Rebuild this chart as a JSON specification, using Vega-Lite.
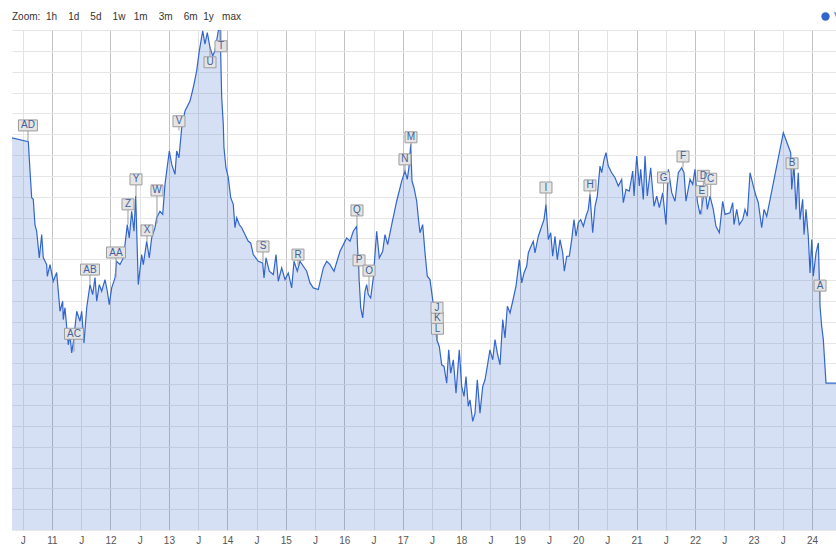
{
  "$schema": "https://vega.github.io/schema/vega-lite/v6.json",
  "width": 824,
  "height": 500,
  "autosize": {"type": "none"},
  "padding": {"left": 12, "top": 30, "right": 0, "bottom": 17},
  "background": "white",
  "config": {
    "view": {"stroke": null},
    "font": "Liberation Sans"
  },
  "title": {
    "text": "Zoom:\u00a0\u00a01h\u00a0\u00a0\u00a0\u00a01d\u00a0\u00a0\u00a0\u00a05d\u00a0\u00a0\u00a0\u00a01w\u00a0\u00a0\u00a01m\u00a0\u00a0\u00a0\u00a03m\u00a0\u00a0\u00a0\u00a06m\u00a0\u00a01y\u00a0\u00a0\u00a0max",
    "anchor": "start",
    "frame": "group",
    "fontSize": 10,
    "fontWeight": "normal",
    "color": "#333333",
    "offset": 11,
    "dy": 22
  },
  "datasets": {
    "series": [
      {"t": 2010.311, "v": 18.83}, {"t": 2010.595, "v": 18.64}, {"t": 2010.624, "v": 17.23}, {"t": 2010.653, "v": 15.95},
      {"t": 2010.680, "v": 15.87}, {"t": 2010.709, "v": 14.66}, {"t": 2010.738, "v": 14.34}, {"t": 2010.783, "v": 13.06},
      {"t": 2010.824, "v": 14.18}, {"t": 2010.851, "v": 13.08}, {"t": 2010.909, "v": 12.74}, {"t": 2010.920, "v": 12.18},
      {"t": 2010.966, "v": 12.74}, {"t": 2011.022, "v": 11.94}, {"t": 2011.080, "v": 12.36}, {"t": 2011.137, "v": 10.50},
      {"t": 2011.183, "v": 10.98}, {"t": 2011.193, "v": 10.10}, {"t": 2011.222, "v": 10.67}, {"t": 2011.279, "v": 8.89},
      {"t": 2011.308, "v": 9.38}, {"t": 2011.337, "v": 8.50}, {"t": 2011.364, "v": 8.99}, {"t": 2011.423, "v": 10.50},
      {"t": 2011.479, "v": 10.02}, {"t": 2011.508, "v": 10.50}, {"t": 2011.547, "v": 8.98}, {"t": 2011.594, "v": 10.67},
      {"t": 2011.650, "v": 11.78}, {"t": 2011.696, "v": 11.30}, {"t": 2011.736, "v": 12.12}, {"t": 2011.765, "v": 10.98},
      {"t": 2011.809, "v": 11.78}, {"t": 2011.850, "v": 11.46}, {"t": 2011.907, "v": 12.02}, {"t": 2011.946, "v": 11.46},
      {"t": 2011.980, "v": 10.82}, {"t": 2012.021, "v": 11.62}, {"t": 2012.078, "v": 12.10}, {"t": 2012.107, "v": 12.90},
      {"t": 2012.163, "v": 12.74}, {"t": 2012.220, "v": 13.06}, {"t": 2012.249, "v": 13.70}, {"t": 2012.288, "v": 14.66},
      {"t": 2012.322, "v": 14.02}, {"t": 2012.363, "v": 15.30}, {"t": 2012.403, "v": 14.34}, {"t": 2012.432, "v": 16.03},
      {"t": 2012.476, "v": 11.78}, {"t": 2012.534, "v": 13.22}, {"t": 2012.562, "v": 12.74}, {"t": 2012.620, "v": 13.86},
      {"t": 2012.664, "v": 13.06}, {"t": 2012.705, "v": 14.02}, {"t": 2012.762, "v": 14.51}, {"t": 2012.791, "v": 14.99},
      {"t": 2012.847, "v": 15.30}, {"t": 2012.894, "v": 15.15}, {"t": 2012.933, "v": 16.59}, {"t": 2013.007, "v": 18.19},
      {"t": 2013.048, "v": 17.55}, {"t": 2013.104, "v": 17.07}, {"t": 2013.133, "v": 18.19}, {"t": 2013.172, "v": 17.87},
      {"t": 2013.219, "v": 19.31}, {"t": 2013.275, "v": 20.11}, {"t": 2013.361, "v": 20.59}, {"t": 2013.417, "v": 21.24},
      {"t": 2013.475, "v": 22.04}, {"t": 2013.520, "v": 23.00}, {"t": 2013.578, "v": 23.96}, {"t": 2013.617, "v": 23.32},
      {"t": 2013.657, "v": 23.88}, {"t": 2013.703, "v": 23.16}, {"t": 2013.749, "v": 22.76}, {"t": 2013.788, "v": 23.00},
      {"t": 2013.845, "v": 23.96}, {"t": 2013.874, "v": 24.30}, {"t": 2013.903, "v": 20.76}, {"t": 2013.930, "v": 19.47},
      {"t": 2013.942, "v": 18.35}, {"t": 2013.976, "v": 17.39}, {"t": 2014.016, "v": 16.91}, {"t": 2014.057, "v": 15.95},
      {"t": 2014.101, "v": 15.63}, {"t": 2014.130, "v": 14.51}, {"t": 2014.160, "v": 14.99}, {"t": 2014.204, "v": 14.66},
      {"t": 2014.245, "v": 14.51}, {"t": 2014.301, "v": 14.18}, {"t": 2014.358, "v": 13.86}, {"t": 2014.399, "v": 13.78},
      {"t": 2014.443, "v": 13.22}, {"t": 2014.529, "v": 12.90}, {"t": 2014.604, "v": 12.82}, {"t": 2014.627, "v": 12.10},
      {"t": 2014.661, "v": 13.06}, {"t": 2014.717, "v": 12.42}, {"t": 2014.786, "v": 12.26}, {"t": 2014.832, "v": 13.22},
      {"t": 2014.871, "v": 11.94}, {"t": 2014.929, "v": 12.58}, {"t": 2014.986, "v": 12.02}, {"t": 2015.042, "v": 12.34},
      {"t": 2015.100, "v": 11.62}, {"t": 2015.140, "v": 12.90}, {"t": 2015.196, "v": 12.42}, {"t": 2015.242, "v": 12.90},
      {"t": 2015.299, "v": 12.66}, {"t": 2015.357, "v": 12.42}, {"t": 2015.413, "v": 11.86}, {"t": 2015.470, "v": 11.62},
      {"t": 2015.555, "v": 11.54}, {"t": 2015.641, "v": 12.58}, {"t": 2015.699, "v": 12.90}, {"t": 2015.756, "v": 12.74},
      {"t": 2015.824, "v": 12.42}, {"t": 2015.927, "v": 13.38}, {"t": 2016.041, "v": 14.02}, {"t": 2016.098, "v": 13.86},
      {"t": 2016.154, "v": 14.34}, {"t": 2016.212, "v": 14.58}, {"t": 2016.240, "v": 12.74}, {"t": 2016.281, "v": 10.66},
      {"t": 2016.315, "v": 10.18}, {"t": 2016.354, "v": 11.46}, {"t": 2016.383, "v": 11.78}, {"t": 2016.411, "v": 11.30},
      {"t": 2016.452, "v": 11.14}, {"t": 2016.496, "v": 12.10}, {"t": 2016.554, "v": 14.34}, {"t": 2016.599, "v": 13.06},
      {"t": 2016.657, "v": 13.38}, {"t": 2016.696, "v": 14.18}, {"t": 2016.742, "v": 13.70}, {"t": 2016.811, "v": 14.66},
      {"t": 2016.896, "v": 15.78}, {"t": 2016.982, "v": 16.75}, {"t": 2017.038, "v": 17.23}, {"t": 2017.078, "v": 16.83},
      {"t": 2017.112, "v": 17.55}, {"t": 2017.136, "v": 18.51}, {"t": 2017.158, "v": 16.75}, {"t": 2017.192, "v": 16.43},
      {"t": 2017.239, "v": 15.78}, {"t": 2017.266, "v": 14.99}, {"t": 2017.295, "v": 14.27}, {"t": 2017.341, "v": 14.66},
      {"t": 2017.381, "v": 13.30}, {"t": 2017.420, "v": 12.18}, {"t": 2017.466, "v": 12.02}, {"t": 2017.512, "v": 11.06},
      {"t": 2017.552, "v": 10.10}, {"t": 2017.581, "v": 9.14}, {"t": 2017.625, "v": 8.81}, {"t": 2017.666, "v": 7.93},
      {"t": 2017.706, "v": 7.85}, {"t": 2017.752, "v": 7.05}, {"t": 2017.786, "v": 8.65}, {"t": 2017.820, "v": 7.53},
      {"t": 2017.865, "v": 8.17}, {"t": 2017.911, "v": 6.57}, {"t": 2017.967, "v": 8.65}, {"t": 2018.008, "v": 6.89},
      {"t": 2018.048, "v": 6.41}, {"t": 2018.082, "v": 7.37}, {"t": 2018.121, "v": 5.93}, {"t": 2018.150, "v": 6.25},
      {"t": 2018.197, "v": 5.21}, {"t": 2018.236, "v": 5.61}, {"t": 2018.275, "v": 7.21}, {"t": 2018.321, "v": 5.61},
      {"t": 2018.368, "v": 6.89}, {"t": 2018.407, "v": 7.21}, {"t": 2018.446, "v": 7.85}, {"t": 2018.492, "v": 8.65},
      {"t": 2018.539, "v": 8.17}, {"t": 2018.578, "v": 9.14}, {"t": 2018.617, "v": 8.50}, {"t": 2018.664, "v": 7.93},
      {"t": 2018.710, "v": 10.10}, {"t": 2018.749, "v": 9.22}, {"t": 2018.789, "v": 10.74}, {"t": 2018.835, "v": 10.42},
      {"t": 2018.881, "v": 10.98}, {"t": 2018.937, "v": 11.70}, {"t": 2018.994, "v": 12.98}, {"t": 2019.035, "v": 11.86},
      {"t": 2019.074, "v": 12.34}, {"t": 2019.120, "v": 12.66}, {"t": 2019.148, "v": 13.30}, {"t": 2019.194, "v": 13.62},
      {"t": 2019.233, "v": 13.86}, {"t": 2019.262, "v": 13.30}, {"t": 2019.319, "v": 14.10}, {"t": 2019.377, "v": 14.58},
      {"t": 2019.416, "v": 14.90}, {"t": 2019.450, "v": 15.63}, {"t": 2019.490, "v": 13.94}, {"t": 2019.531, "v": 14.27},
      {"t": 2019.565, "v": 13.14}, {"t": 2019.604, "v": 14.10}, {"t": 2019.644, "v": 12.98}, {"t": 2019.690, "v": 13.94},
      {"t": 2019.736, "v": 13.30}, {"t": 2019.764, "v": 12.42}, {"t": 2019.805, "v": 13.14}, {"t": 2019.849, "v": 13.14},
      {"t": 2019.890, "v": 13.94}, {"t": 2019.929, "v": 14.90}, {"t": 2019.964, "v": 14.10}, {"t": 2020.003, "v": 14.75},
      {"t": 2020.044, "v": 14.90}, {"t": 2020.089, "v": 14.58}, {"t": 2020.135, "v": 15.06}, {"t": 2020.174, "v": 15.39},
      {"t": 2020.203, "v": 16.11}, {"t": 2020.249, "v": 14.27}, {"t": 2020.289, "v": 15.54}, {"t": 2020.328, "v": 16.03},
      {"t": 2020.374, "v": 17.47}, {"t": 2020.403, "v": 17.15}, {"t": 2020.443, "v": 17.79}, {"t": 2020.477, "v": 18.11},
      {"t": 2020.516, "v": 17.47}, {"t": 2020.574, "v": 17.15}, {"t": 2020.631, "v": 16.91}, {"t": 2020.687, "v": 16.51},
      {"t": 2020.745, "v": 16.83}, {"t": 2020.773, "v": 15.71}, {"t": 2020.819, "v": 16.35}, {"t": 2020.875, "v": 16.27},
      {"t": 2020.934, "v": 17.23}, {"t": 2020.956, "v": 16.03}, {"t": 2021.002, "v": 17.95}, {"t": 2021.047, "v": 16.51},
      {"t": 2021.070, "v": 17.31}, {"t": 2021.115, "v": 15.87}, {"t": 2021.144, "v": 17.95}, {"t": 2021.183, "v": 16.03},
      {"t": 2021.241, "v": 17.39}, {"t": 2021.298, "v": 15.54}, {"t": 2021.344, "v": 16.03}, {"t": 2021.389, "v": 15.47},
      {"t": 2021.447, "v": 16.19}, {"t": 2021.503, "v": 14.66}, {"t": 2021.543, "v": 17.31}, {"t": 2021.601, "v": 16.19},
      {"t": 2021.657, "v": 15.78}, {"t": 2021.714, "v": 17.15}, {"t": 2021.772, "v": 17.39}, {"t": 2021.811, "v": 17.15},
      {"t": 2021.845, "v": 15.78}, {"t": 2021.914, "v": 16.83}, {"t": 2021.960, "v": 16.59}, {"t": 2021.999, "v": 17.31},
      {"t": 2022.039, "v": 15.78}, {"t": 2022.085, "v": 15.15}, {"t": 2022.114, "v": 15.47}, {"t": 2022.170, "v": 16.51},
      {"t": 2022.210, "v": 15.39}, {"t": 2022.256, "v": 16.03}, {"t": 2022.312, "v": 15.39}, {"t": 2022.358, "v": 14.58},
      {"t": 2022.415, "v": 14.27}, {"t": 2022.473, "v": 15.78}, {"t": 2022.512, "v": 15.15}, {"t": 2022.598, "v": 15.23},
      {"t": 2022.644, "v": 15.71}, {"t": 2022.666, "v": 14.66}, {"t": 2022.713, "v": 15.39}, {"t": 2022.757, "v": 14.66},
      {"t": 2022.815, "v": 14.90}, {"t": 2022.854, "v": 15.39}, {"t": 2022.894, "v": 15.06}, {"t": 2022.940, "v": 17.15},
      {"t": 2022.997, "v": 16.51}, {"t": 2023.043, "v": 16.03}, {"t": 2023.082, "v": 15.71}, {"t": 2023.140, "v": 14.51},
      {"t": 2023.180, "v": 15.39}, {"t": 2023.226, "v": 15.06}, {"t": 2023.510, "v": 19.07}, {"t": 2023.636, "v": 18.11},
      {"t": 2023.653, "v": 16.35}, {"t": 2023.693, "v": 17.47}, {"t": 2023.727, "v": 15.39}, {"t": 2023.766, "v": 17.15},
      {"t": 2023.795, "v": 14.90}, {"t": 2023.841, "v": 15.87}, {"t": 2023.864, "v": 14.18}, {"t": 2023.898, "v": 15.39},
      {"t": 2023.937, "v": 14.10}, {"t": 2023.967, "v": 12.34}, {"t": 2023.996, "v": 13.94}, {"t": 2024.023, "v": 12.18},
      {"t": 2024.069, "v": 13.30}, {"t": 2024.109, "v": 13.78}, {"t": 2024.138, "v": 10.74}, {"t": 2024.166, "v": 9.78},
      {"t": 2024.194, "v": 9.14}, {"t": 2024.240, "v": 7.05}, {"t": 2024.420, "v": 7.05}
    ],
    "flags": [
      {"label": "AD", "t": 2010.589, "v": 18.65, "flag": 19.42},
      {"label": "AC", "t": 2011.376, "v": 8.56, "flag": 9.42},
      {"label": "AB", "t": 2011.650, "v": 11.78, "flag": 12.50},
      {"label": "AA", "t": 2012.095, "v": 12.12, "flag": 13.32},
      {"label": "Z", "t": 2012.300, "v": 14.66, "flag": 15.63},
      {"label": "Y", "t": 2012.437, "v": 16.01, "flag": 16.83},
      {"label": "X", "t": 2012.625, "v": 13.85, "flag": 14.38},
      {"label": "W", "t": 2012.796, "v": 14.71, "flag": 16.30},
      {"label": "V", "t": 2013.172, "v": 19.18, "flag": 19.62},
      {"label": "U", "t": 2013.703, "v": 23.17, "flag": 22.45},
      {"label": "T", "t": 2013.891, "v": 23.99, "flag": 23.22},
      {"label": "S", "t": 2014.609, "v": 12.88, "flag": 13.61},
      {"label": "R", "t": 2015.208, "v": 12.69, "flag": 13.22},
      {"label": "Q", "t": 2016.217, "v": 14.62, "flag": 15.34},
      {"label": "P", "t": 2016.252, "v": 11.92, "flag": 12.94},
      {"label": "O", "t": 2016.423, "v": 11.44, "flag": 12.45},
      {"label": "N", "t": 2017.038, "v": 17.16, "flag": 17.79},
      {"label": "M", "t": 2017.141, "v": 18.37, "flag": 18.85},
      {"label": "L", "t": 2017.594, "v": 9.13, "flag": 9.66},
      {"label": "K", "t": 2017.590, "v": 9.13, "flag": 10.19},
      {"label": "J", "t": 2017.586, "v": 9.13, "flag": 10.67},
      {"label": "I", "t": 2019.450, "v": 15.63, "flag": 16.44},
      {"label": "H", "t": 2020.203, "v": 16.06, "flag": 16.54},
      {"label": "G", "t": 2021.461, "v": 16.20, "flag": 16.92},
      {"label": "F", "t": 2021.794, "v": 17.40, "flag": 17.93},
      {"label": "E", "t": 2022.114, "v": 15.14, "flag": 16.26},
      {"label": "D", "t": 2022.141, "v": 15.96, "flag": 17.00},
      {"label": "C", "t": 2022.268, "v": 16.01, "flag": 16.86},
      {"label": "B", "t": 2023.659, "v": 17.07, "flag": 17.60},
      {"label": "A", "t": 2024.138, "v": 11.06, "flag": 11.73}
    ]
  },
  "encoding": {
    "x": {
      "field": "t",
      "type": "quantitative",
      "title": null,
      "scale": {"domain": [2010.316, 2024.411], "nice": false, "zero": false},
      "axis": {
        "values": [2010.5, 2011, 2011.5, 2012, 2012.5, 2013, 2013.5, 2014, 2014.5, 2015, 2015.5, 2016, 2016.5, 2017, 2017.5, 2018, 2018.5, 2019, 2019.5, 2020, 2020.5, 2021, 2021.5, 2022, 2022.5, 2023, 2023.5, 2024],
        "labelExpr": "datum.value % 1 == 0 ? slice(toString(datum.value), 2) : 'J'",
        "domain": false,
        "ticks": false,
        "labelFontSize": 10,
        "labelColor": "#555555",
        "labelPadding": 5,
        "labelFlush": false,
        "grid": true,
        "gridColor": {"condition": {"test": "datum.value % 1 == 0", "value": "#c2c2c2"}, "value": "#e3e3e3"}
      }
    },
    "y": {
      "field": "v",
      "type": "quantitative",
      "title": null,
      "scale": {"domain": [0, 24], "nice": false},
      "axis": {"labels": false, "ticks": false, "domain": false, "grid": true, "tickCount": 24, "gridColor": "#e6e6e6"}
    }
  },
  "layer": [
    {
      "data": {"name": "series"},
      "mark": {"type": "area", "color": "#3366cc", "fillOpacity": 0.2, "clip": true}
    },
    {
      "data": {"name": "series"},
      "mark": {"type": "line", "strokeWidth": 1.2, "clip": true},
      "encoding": {
        "color": {
          "datum": "Value",
          "scale": {"range": ["#3366cc"]},
          "legend": {
            "orient": "none",
            "legendX": 808,
            "legendY": -19,
            "title": null,
            "padding": 0,
            "symbolType": "circle",
            "symbolSize": 70,
            "symbolFillColor": "#3366cc",
            "symbolStrokeWidth": 0,
            "labelColor": "#3366cc",
            "labelFontSize": 11,
            "labelOffset": 3
          }
        }
      }
    },
    {
      "data": {"name": "flags"},
      "mark": {"type": "rule", "color": "#9a9a9a", "strokeWidth": 1},
      "encoding": {"y2": {"field": "flag"}}
    },
    {
      "data": {"name": "flags"},
      "transform": [{"filter": "length(datum.label) == 1"}],
      "mark": {"type": "point", "shape": "M-1,-0.917H1V0.917H-1Z", "size": 144, "filled": true, "fill": "#e4e4e4", "stroke": "#9c9c9c", "strokeWidth": 1, "opacity": 1},
      "encoding": {"y": {"field": "flag"}}
    },
    {
      "data": {"name": "flags"},
      "transform": [{"filter": "length(datum.label) == 2"}],
      "mark": {"type": "point", "shape": "M-1.583,-0.917H1.583V0.917H-1.583Z", "size": 144, "filled": true, "fill": "#e4e4e4", "stroke": "#9c9c9c", "strokeWidth": 1, "opacity": 1},
      "encoding": {"y": {"field": "flag"}}
    },
    {
      "data": {"name": "flags"},
      "mark": {"type": "text", "fontSize": 10, "color": "#3f5fa0", "baseline": "middle", "align": "center"},
      "encoding": {"y": {"field": "flag"}, "text": {"field": "label"}}
    }
  ]
}
